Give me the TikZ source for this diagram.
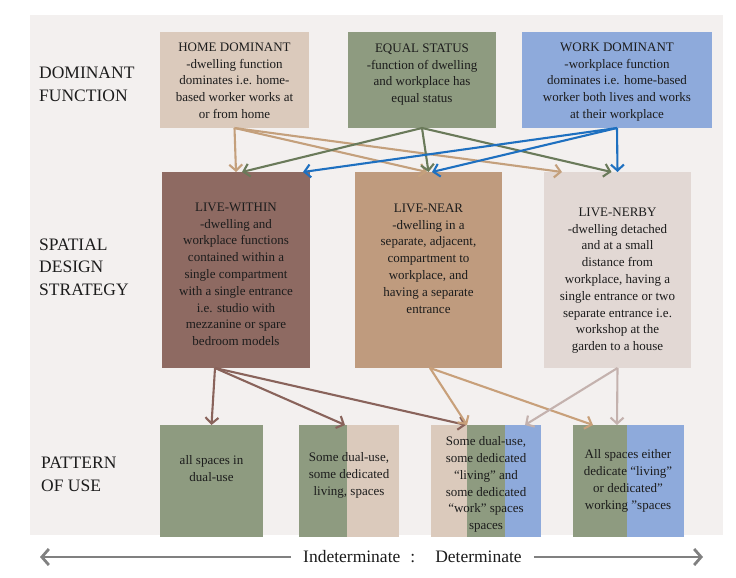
\documentclass[tikz,border=0pt]{standalone}
\usepackage{fontspec}
\setmainfont{Liberation Serif}
\usetikzlibrary{arrows.meta}
\definecolor{panel}{RGB}{243,240,239}
\definecolor{hometan}{RGB}{219,202,188}
\definecolor{sage}{RGB}{142,155,128}
\definecolor{sky}{RGB}{142,170,219}
\definecolor{withinbr}{RGB}{142,106,98}
\definecolor{neartan}{RGB}{191,155,126}
\definecolor{nerbygr}{RGB}{226,216,212}
\definecolor{aTan}{RGB}{196,160,124}
\definecolor{aGreen}{RGB}{106,122,90}
\definecolor{aBlue}{RGB}{30,112,192}
\definecolor{aBrown}{RGB}{137,99,91}
\definecolor{aTanB}{RGB}{200,160,122}
\definecolor{aPink}{RGB}{196,178,174}
\definecolor{aGrey}{RGB}{128,128,128}
\definecolor{ink}{RGB}{28,28,28}
\begin{document}
\begin{tikzpicture}[x=1pt,y=-1pt,
  boxshape/.style={rectangle,draw=none,inner sep=0pt,outer sep=0pt},
  boxtext/.style={anchor=north,inner sep=0pt,align=center,text=ink,
    font=\fontsize{13}{16.8}\selectfont},
  sidelabel/.style={anchor=north west,inner sep=0pt,align=left,text=ink,
    font=\fontsize{17.5}{22.5}\selectfont},
  arr/.style={line width=2.1pt,-{Straight Barb[length=6pt,width=13pt]}},
  bigarr/.style={line width=2.8pt,aGrey,-{Straight Barb[length=7pt,width=16pt]}}
]
\useasboundingbox (0,0) rectangle (736,578);
% panel
\fill[panel] (30,15) rectangle (723,535);

% side labels
\node[sidelabel] (lblDom) at (39,67.2) {DOMINANT\\FUNCTION};
\node[sidelabel] (lblSpa) at (39,238.5) {SPATIAL\\DESIGN\\STRATEGY};
\node[sidelabel] (lblPat) at (41,457) {PATTERN\\OF USE};

% top boxes
\node[boxshape,fill=hometan,minimum width=149pt,minimum height=96pt] (home) at (234.5,80) {};
\node[boxshape,fill=sage,minimum width=148pt,minimum height=96pt] (equal) at (422,80) {};
\node[boxshape,fill=sky,minimum width=190pt,minimum height=96pt] (work) at (617,80) {};
\node[boxtext] (homeT) at (234.5,42.5) {HOME DOMINANT\\-dwelling function\\dominates i.e. home-\\based worker works at\\or from home};
\node[boxtext] (equalT) at (422,43.5) {EQUAL STATUS\\-function of dwelling\\and workplace has\\equal status};
\node[boxtext] (workT) at (617,42.5) {WORK DOMINANT\\-workplace function\\dominates i.e. home-based\\worker both lives and works\\at their workplace};

% middle boxes
\node[boxshape,fill=withinbr,minimum width=148pt,minimum height=196pt] (within) at (236,270) {};
\node[boxshape,fill=neartan,minimum width=147pt,minimum height=196pt] (near) at (428.5,270) {};
\node[boxshape,fill=nerbygr,minimum width=147pt,minimum height=196pt] (nerby) at (617.5,270) {};
\node[boxtext] (withinT) at (236,202.5) {LIVE-WITHIN\\-dwelling and\\workplace functions\\contained within a\\single compartment\\with a single entrance\\i.e. studio with\\mezzanine or spare\\bedroom models};
\node[boxtext] (nearT) at (428.5,203.5) {LIVE-NEAR\\-dwelling in a\\separate, adjacent,\\compartment to\\workplace, and\\having a separate\\entrance};
\node[boxtext] (nerbyT) at (617.5,207.5) {LIVE-NERBY\\-dwelling detached\\and at a small\\distance from\\workplace, having a\\single entrance or two\\separate entrance i.e.\\workshop at the\\garden to a house};

% bottom boxes
\fill[sage] (160,425) rectangle (263,537);
\fill[sage] (299,425) rectangle (347,537);
\fill[hometan] (347,425) rectangle (399,537);
\fill[hometan] (431,425) rectangle (467,537);
\fill[sage] (467,425) rectangle (505,537);
\fill[sky] (505,425) rectangle (541,537);
\fill[sage] (573,425) rectangle (627,537);
\fill[sky] (627,425) rectangle (684,537);
\node[boxshape,minimum width=103pt,minimum height=112pt] (b1) at (211.5,481) {};
\node[boxshape,minimum width=100pt,minimum height=112pt] (b2) at (349,481) {};
\node[boxshape,minimum width=110pt,minimum height=112pt] (b3) at (486,481) {};
\node[boxshape,minimum width=111pt,minimum height=112pt] (b4) at (628.5,481) {};
\node[boxtext] (b1T) at (211.5,455.5) {all spaces in\\dual-use};
\node[boxtext] (b2T) at (349,452.5) {Some dual-use,\\some dedicated\\living, spaces};
\node[boxtext] (b3T) at (486,436.5) {Some dual-use,\\some dedicated\\“living” and\\some dedicated\\“work” spaces\\spaces};
\node[boxtext] (b4T) at (628,449.5) {All spaces either\\dedicate “living”\\or dedicated”\\working ”spaces};

% upper connectors
\draw[arr,aTan] (home.south) -- (within.north);
\draw[arr,aTan] (home.south) -- ([xshift=-1.5pt]near.north);
\draw[arr,aTan] (home.south) -- ([xshift=-55.5pt]nerby.north);
\draw[arr,aGreen] (equal.south) -- ([xshift=6pt]within.north);
\draw[arr,aGreen] (equal.south) -- (near.north);
\draw[arr,aGreen] (equal.south) -- ([xshift=-6pt]nerby.north);
\draw[arr,aBlue] (work.south) -- ([xshift=67pt]within.north);
\draw[arr,aBlue] (work.south) -- ([xshift=3.5pt]near.north);
\draw[arr,aBlue] (work.south) -- (nerby.north);

% lower connectors
\draw[arr,aBrown] ([xshift=-21pt]within.south) -- (b1.north);
\draw[arr,aBrown] ([xshift=-21pt]within.south) -- ([xshift=-4pt]b2.north);
\draw[arr,aBrown] ([xshift=-21pt]within.south) -- ([xshift=-20pt]b3.north);
\draw[arr,aTanB] ([xshift=1.5pt]near.south) -- ([xshift=-19pt]b3.north);
\draw[arr,aTanB] ([xshift=1.5pt]near.south) -- ([xshift=-35.5pt]b4.north);
\draw[arr,aPink] (nerby.south) -- ([xshift=39pt]b3.north);
\draw[arr,aPink] (nerby.south) -- ([xshift=-11.5pt]b4.north);

% scale
\node[anchor=west,inner xsep=12pt,inner ysep=0pt,text=ink,
  font=\fontsize{17.5}{21}\selectfont] (scale) at (291,557)
  {Indeterminate\hspace{10pt}:\hspace{20pt}Determinate};
\coordinate (leftEnd) at (40,557);
\coordinate (rightEnd) at (703,557);
\draw[bigarr] (scale.west) -- (leftEnd);
\draw[bigarr] (scale.east) -- (rightEnd);
\end{tikzpicture}
\end{document}
